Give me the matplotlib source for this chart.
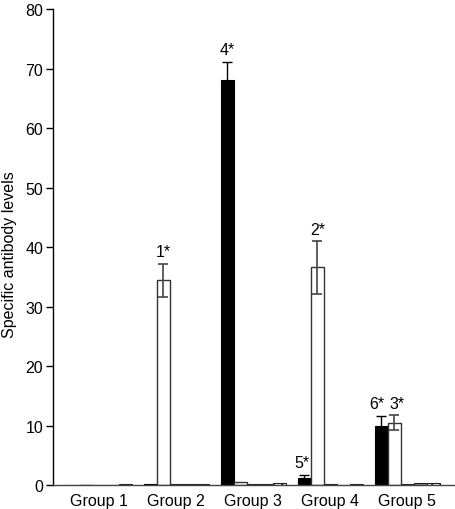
import matplotlib
matplotlib.use("Agg")
import matplotlib.pyplot as plt
import numpy as np

plt.rcParams['font.family'] = ['Liberation Sans', 'DejaVu Sans']

groups = ["Group 1", "Group 2", "Group 3", "Group 4", "Group 5"]
# five series per group
s_black = [0.05, 0.1, 68.1, 1.2, 10.0]
s_white = [0.05, 34.4, 0.5, 36.6, 10.5]
s_third = [0.05, 0.15, 0.2, 0.1, 0.2]
s_fourth = [0.05, 0.15, 0.2, 0.05, 0.3]
s_fifth = [0.2, 0.15, 0.3, 0.15, 0.3]
err_black = [0, 0, 3.0, 0.5, 1.6]
err_white = [0, 2.8, 0, 4.4, 1.2]
lab_black = ["", "", "4*", "5*", "6*"]
lab_white = ["", "1*", "", "2*", "3*"]

FS = 11.5

fig = plt.figure(figsize=(4.56, 5.10), dpi=100)
ax = fig.add_axes([0.1162, 0.047, 0.882, 0.933])

x = np.arange(len(groups))
w = 0.169
offs = np.array([-2, -1, 0, 1, 2]) * w

ax.bar(x + offs[0], s_black, w, color='black', edgecolor='black', linewidth=0.8, zorder=2)
ax.bar(x + offs[1], s_white, w, color='white', edgecolor='#333333', linewidth=1.0, zorder=2)
ax.bar(x + offs[2], s_third, w, color='white', edgecolor='#222222', linewidth=0.8, hatch='....', zorder=2)
ax.bar(x + offs[3], s_fourth, w, color='#888888', edgecolor='#222222', linewidth=0.8, zorder=2)
ax.bar(x + offs[4], s_fifth, w, color='white', edgecolor='#222222', linewidth=0.8, hatch='////', zorder=2)

for i in range(len(groups)):
    if err_black[i] > 0:
        ax.errorbar(x[i] + offs[0], s_black[i], yerr=err_black[i], fmt='none',
                    ecolor='black', elinewidth=1.0, capsize=3.6, capthick=1.0, zorder=1)
    if err_white[i] > 0:
        ax.errorbar(x[i] + offs[1], s_white[i], yerr=err_white[i], fmt='none',
                    ecolor='#444444', elinewidth=1.2, capsize=3.6, capthick=1.2, zorder=3)
    # nudge the crowded labels of group 5 apart
    dxb = -3.0 if i == 4 else (-1.5 if i == 3 else 0)
    dxw = 2.0 if i == 4 else 0
    if lab_black[i]:
        ax.annotate(lab_black[i], (x[i] + offs[0], s_black[i] + err_black[i]),
                    xytext=(dxb, 5.5), textcoords='offset points', ha='center', va='baseline',
                    fontsize=FS)
    if lab_white[i]:
        ax.annotate(lab_white[i], (x[i] + offs[1], s_white[i] + err_white[i]),
                    xytext=(dxw, 5.5), textcoords='offset points', ha='center', va='baseline',
                    fontsize=FS)

ax.set_xlim(-0.60, 4.62)
ax.set_ylim(0, 80)
ax.set_yticks(np.arange(0, 81, 10))
ax.set_xticks(x)
ax.set_xticklabels(groups, fontsize=FS)
ax.tick_params(axis='x', length=0, pad=6)
ax.tick_params(axis='y', length=5, width=1, labelsize=FS, pad=2)
fig.text(10 / 456, 0.5, "Specific antibody levels", rotation=90, ha='center', va='center',
         fontsize=FS)

for s in ['top', 'right']:
    ax.spines[s].set_visible(False)
ax.spines['left'].set_linewidth(1.0)
ax.spines['bottom'].set_linewidth(1.0)
ax.spines['bottom'].set_color('#444444')

fig.savefig("out.png", dpi=100)
